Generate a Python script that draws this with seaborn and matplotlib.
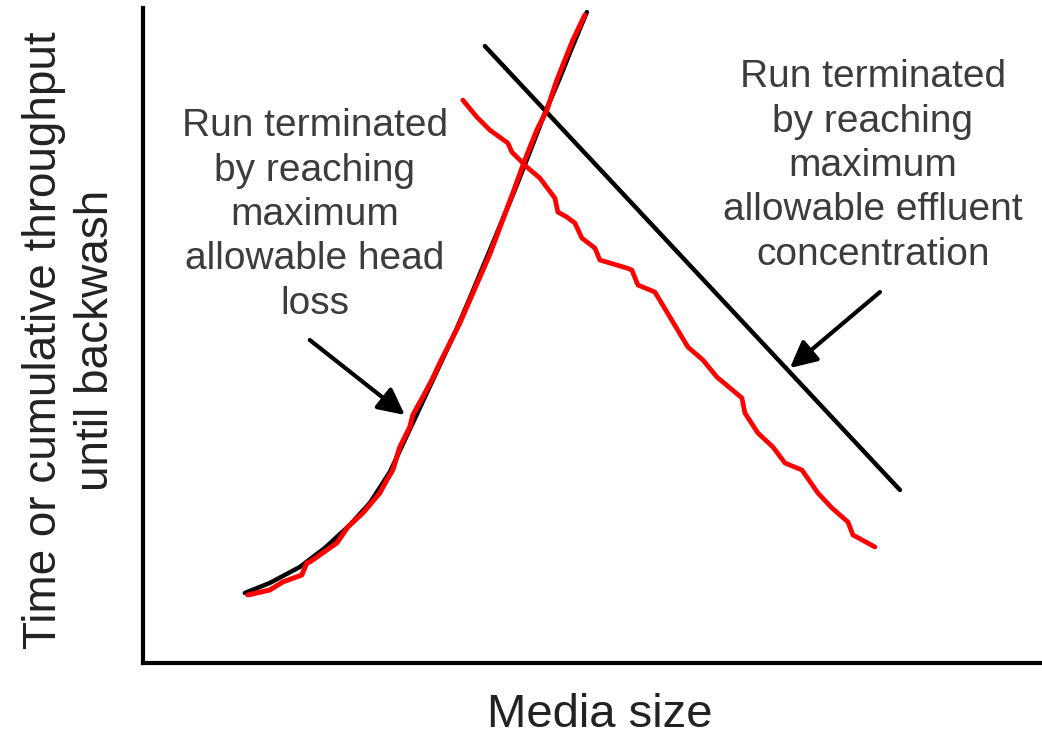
import seaborn as sns
from matplotlib import pyplot as plt

# head loss curve (black, smooth) -- media size vs run length, arbitrary units
headloss_x = [102, 127, 157, 182, 207, 227, 247, 262, 277, 297, 312, 327, 342, 357, 372, 387, 402, 417, 429, 444]
headloss_y = [70, 80, 96, 115, 138, 160, 191, 223, 255, 298, 330, 365, 401, 437, 473, 511, 550, 585, 615, 651]

# hand-traced red overlay of the head loss curve
headloss_red_x = [105, 127, 140, 159, 164, 167, 194, 205, 220, 237, 244, 250, 257, 267, 270, 280, 289, 297,
                  317, 327, 347, 370, 382, 394, 404, 414, 430, 442]
headloss_red_y = [68, 73, 81, 88, 100, 101, 120, 136, 150, 170, 183, 193, 216, 236, 248, 266, 283, 300,
                  340, 363, 409, 470, 503, 533, 553, 583, 623, 648]

# effluent concentration line (black, straight)
effluent_x = [342, 757]
effluent_y = [617, 173]

# hand-traced red effluent line
effluent_red_x = [320, 334, 347, 365, 369, 384, 397, 412, 415, 424, 432, 439, 452, 457, 484, 489, 495, 512,
                  527, 545, 560, 574, 599, 602, 615, 630, 642, 659, 675, 689, 705, 710, 732]
effluent_red_y = [563, 546, 533, 520, 511, 496, 485, 465, 451, 446, 440, 425, 415, 403, 395, 393, 378, 371,
                  346, 316, 303, 286, 265, 250, 230, 216, 200, 193, 170, 155, 141, 128, 116]

left_note = "Run terminated\nby reaching\nmaximum\nallowable head\nloss"
right_note = "Run terminated\nby reaching\nmaximum\nallowable effluent\nconcentration"

sns.set_style("white")
plt.rcParams['font.family'] = ['Liberation Sans', 'DejaVu Sans']

fig = plt.figure(figsize=(10.42, 7.35), dpi=100)
ax = fig.add_axes([0.137, 0.098, 0.863, 0.891])

sns.lineplot(x=headloss_x, y=headloss_y, sort=False, estimator=None, color="black", lw=3.2, ax=ax)
sns.lineplot(x=effluent_x, y=effluent_y, sort=False, estimator=None, color="black", lw=3.2, ax=ax)
sns.lineplot(x=headloss_red_x, y=headloss_red_y, sort=False, estimator=None, color="#ff0000", lw=3.6, ax=ax)
sns.lineplot(x=effluent_red_x, y=effluent_red_y, sort=False, estimator=None, color="#ff0000", lw=3.4, ax=ax)

ax.set_xlim(0, 899)
ax.set_ylim(0, 655)
ax.set_xticks([])
ax.set_yticks([])
sns.despine(ax=ax)
for side in ["left", "bottom"]:
    ax.spines[side].set_linewidth(3)
    ax.spines[side].set_color("black")

ax.text(172, 448, left_note, ha="center", va="center", fontsize=28, color="#3c3c3c", linespacing=1.3)
ax.text(730, 497, right_note, ha="center", va="center", fontsize=28, color="#3c3c3c", linespacing=1.3)

arrow = dict(arrowstyle="-|>", lw=3, color="black", mutation_scale=40, shrinkA=0, shrinkB=0)
ax.annotate("", xy=(262, 248), xytext=(167, 323), arrowprops=arrow)
ax.annotate("", xy=(647, 295), xytext=(737, 371), arrowprops=arrow)

ax.set_xlabel("Media size", fontsize=34, color="#222222", va="center")
ax.xaxis.set_label_coords(0.508, -0.079)
ax.set_ylabel("Time or cumulative throughput\nuntil backwash", fontsize=33, color="#222222",
              va="center", linespacing=1.25)
ax.yaxis.set_label_coords(-0.081, 0.493)

plt.savefig("out.png")
plt.close()
